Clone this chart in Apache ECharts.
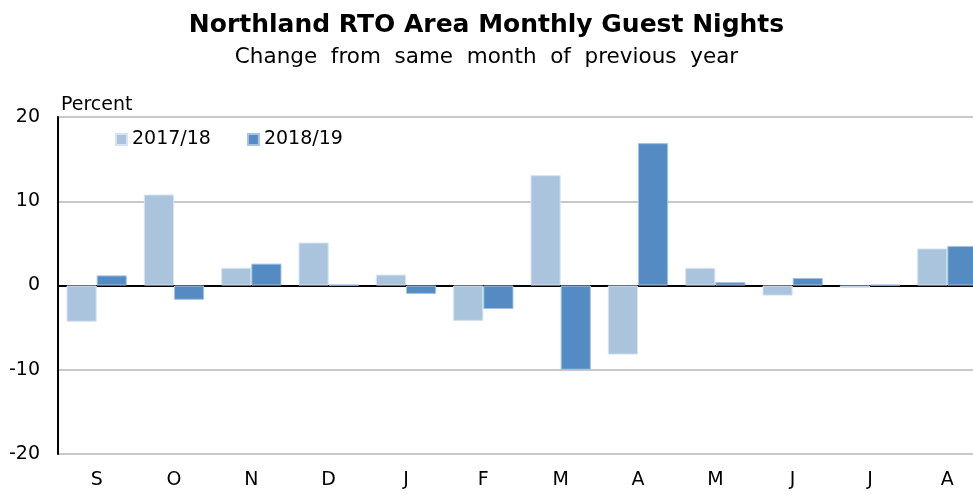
<!DOCTYPE html>
<html>
<head>
<meta charset="utf-8">
<script src="https://cdn.jsdelivr.net/npm/echarts@6/dist/echarts.min.js"></script>
<style>
    html, body { margin: 0; padding: 0; background: #fff; overflow: hidden; }
    #chart { width: 973px; height: 495px; }
</style>
</head>
<body>
<div id="chart"></div>
<script>
    // month labels (Sept to Aug)
    var months = ['S', 'O', 'N', 'D', 'J', 'F', 'M', 'A', 'M', 'J', 'J', 'A'];
    var yTicks = [-20, -10, 0, 10, 20];
    // percent change from same month of previous year
    var season1718 = [-4.3, 10.8, 2.1, 5.1, 1.3, -4.2, 13.1, -8.2, 2.1, -1.2, -0.3, 4.4];
    var season1819 = [1.2, -1.7, 2.6, 0.1, -1.0, -2.8, -10.0, 16.9, 0.4, 0.9, 0.1, 4.7];

    var chart = echarts.init(document.getElementById('chart'));
    var font = 'DejaVu Sans, Liberation Sans, Arial, sans-serif';

    var option = {
        animation: false,
        title: [{
            text: 'Northland RTO Area Monthly Guest Nights',
            left: 'center',
            top: 8,
            textStyle: {fontFamily: font, fontSize: 25, fontWeight: 'bold', color: '#000'}
        }, {
            text: 'Change  from  same  month  of  previous  year',
            left: 'center',
            top: 41,
            textStyle: {fontFamily: font, fontSize: 21.5, fontWeight: 'normal', color: '#000'}
        }, {
            text: 'Percent',
            left: 56,
            top: 91,
            textStyle: {fontFamily: font, fontSize: 19, fontWeight: 'normal', color: '#000'}
        }],
        legend: {
            left: 110,
            top: 125,
            itemWidth: 11,
            itemHeight: 11,
            itemGap: 36,
            icon: 'rect',
            textStyle: {fontFamily: font, fontSize: 19, color: '#000'},
            data: ['2017/18', '2018/19']
        },
        // the plot runs past the right edge of the picture
        grid: {left: 58, width: 928, top: 117, bottom: 41, outerBoundsMode: 'none'},
        xAxis: [{
            type: 'category',
            data: months,
            position: 'bottom',
            axisLine: {show: false, onZero: false},
            axisTick: {show: false},
            axisLabel: {fontFamily: font, fontSize: 19, color: '#000', margin: 17}
        }, {
            type: 'category',
            data: months,
            axisLine: {show: true, onZero: true, lineStyle: {color: '#000', width: 2}},
            axisTick: {show: false},
            axisLabel: {show: false}
        }],
        yAxis: {
            type: 'value',
            min: yTicks[0],
            max: yTicks[yTicks.length - 1],
            interval: 10,
            axisLine: {show: true, lineStyle: {color: '#000', width: 2}},
            axisTick: {show: false},
            axisLabel: {fontFamily: font, fontSize: 19, color: '#000', margin: 18},
            splitLine: {lineStyle: {color: '#c8c8c8', width: 2}}
        },
        series: [{
            name: '2017/18',
            type: 'bar',
            data: season1718,
            barWidth: '39%',
            barGap: '0%',
            itemStyle: {color: '#aac4de', borderColor: '#d6e3f0', borderWidth: 1}
        }, {
            name: '2018/19',
            type: 'bar',
            data: season1819,
            barWidth: '39%',
            barGap: '0%',
            itemStyle: {color: '#548bc2', borderColor: '#a8c3e0', borderWidth: 1}
        }]
    };
    chart.setOption(option);
</script>
</body>
</html>
